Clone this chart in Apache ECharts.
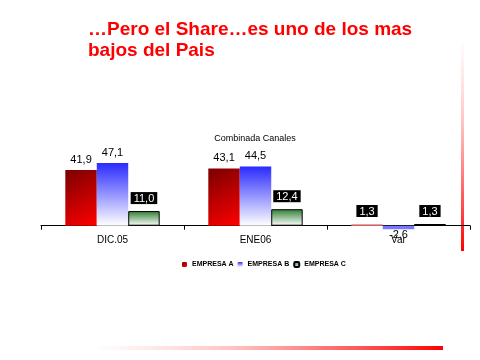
<!DOCTYPE html>
<html><head><meta charset="utf-8">
<script src="https://cdn.jsdelivr.net/npm/echarts@6/dist/echarts.min.js"></script>
<style>html,body{margin:0;padding:0;background:#fff}#c{width:480px;height:360px}</style>
</head><body><div id="c"></div>
<script>
var categories = ['DIC.05', 'ENE06', 'Var'];
var empresaA = [41.9, 43.1, 1.3];
var empresaB = [47.1, 44.5, -2.6];
var empresaC = [11.0, 12.4, 1.3];
var seriesNames = ['EMPRESA A', 'EMPRESA B', 'EMPRESA C'];

function fmt(v){ return v.toFixed(1).replace('.', ','); }
var plainLabel = {show:true, position:'top', distance:5, color:'#000', fontSize:11, fontFamily:'Liberation Sans', formatter:function(p){return fmt(p.value);}};
var boxLabel = {show:true, position:'top', distance:7, color:'#fff', backgroundColor:'#000', padding:[1,3,0,3], fontSize:11, fontFamily:'Liberation Sans', formatter:function(p){return fmt(p.value);}};

var redGrad = new echarts.graphic.LinearGradient(0,0,1,1,[{offset:0,color:'#7a0000'},{offset:1,color:'#ff0000'}]);
var blueGrad = new echarts.graphic.LinearGradient(0,0,0,1,[{offset:0,color:'#2a2aff'},{offset:1,color:'#ffffff'}]);
var greenGrad = new echarts.graphic.LinearGradient(0,0,0,1,[{offset:0,color:'#2e7d32'},{offset:1,color:'#ffffff'}]);

var dataA = empresaA.map(function(v,i){
  if (i === 2) return {value:v, itemStyle:{color:'#ff9999'}, label:boxLabel};
  return {value:v};
});
var dataB = empresaB.map(function(v,i){
  if (i === 2) return {value:v, itemStyle:{color:'#7777ff'}, label:{show:true, position:'bottom', distance:0, color:'#000', fontSize:11, fontFamily:'Liberation Sans', formatter:function(p){return fmt(p.value);}}};
  return {value:v};
});
var dataC = empresaC.map(function(v,i){
  if (i === 2) return {value:v, itemStyle:{color:'#000', borderWidth:0}};
  return {value:v};
});

var chart = echarts.init(document.getElementById('c'));
chart.setOption({
  animation:false,
  title:{text:'…Pero el Share…es uno de los mas\nbajos del Pais', left:83, top:14,
    textStyle:{color:'#ff0000', fontSize:19, fontWeight:'bold', fontFamily:'Liberation Sans', lineHeight:21}},
  legend:{data:seriesNames, left:177, top:256, itemWidth:5, itemHeight:5, itemGap:4,
    textStyle:{fontSize:7, fontWeight:'bold', fontFamily:'Liberation Sans', color:'#000'}},
  grid:{left:41, right:10, top:159.2, bottom:130.3},
  xAxis:{type:'category', data:categories,
    axisLine:{onZero:true, lineStyle:{color:'#000', width:1}},
    axisTick:{show:true, length:4, lineStyle:{color:'#000'}},
    axisLabel:{color:'#000', fontSize:10, fontFamily:'Liberation Sans', margin:6}},
  yAxis:{type:'value', min:-3, max:50, show:false, splitLine:{show:false}},
  graphic:[
    {type:'text', x:255, y:134, style:{text:'Combinada Canales', align:'center', fontSize:9, fontFamily:'Liberation Sans', fill:'#000'}},
    {type:'rect', shape:{x:461, y:38, width:3, height:213},
      style:{fill:new echarts.graphic.LinearGradient(0,0,0,1,[{offset:0,color:'rgba(255,200,200,0)'},{offset:0.4,color:'rgba(255,180,180,0.8)'},{offset:1,color:'#ff0000'}])}},
    {type:'rect', shape:{x:90, y:346, width:353, height:4},
      style:{fill:new echarts.graphic.LinearGradient(0,0,1,0,[{offset:0,color:'rgba(255,200,200,0)'},{offset:0.4,color:'rgba(255,180,180,0.8)'},{offset:1,color:'#ff0000'}])}}
  ],
  series:[
    {name:seriesNames[0], type:'bar', data:dataA, barWidth:'22%', barGap:'0%', itemStyle:{color:redGrad}, label:plainLabel},
    {name:seriesNames[1], type:'bar', data:dataB, barWidth:'22%', barGap:'0%', itemStyle:{color:blueGrad}, label:plainLabel},
    {name:seriesNames[2], type:'bar', data:dataC, barWidth:'22%', barGap:'0%', itemStyle:{color:greenGrad, borderColor:'#000', borderWidth:1}, label:boxLabel}
  ]
});
</script></body></html>
